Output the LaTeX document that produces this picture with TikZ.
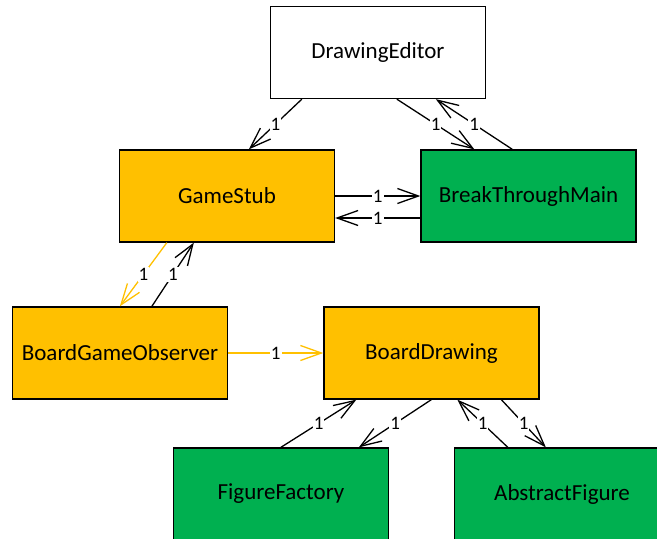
\documentclass[tikz,border=0pt]{standalone}
\usepackage{fontspec}
\setmainfont{Carlito}
\usetikzlibrary{arrows.meta}
\definecolor{boxorange}{HTML}{FFC000}
\definecolor{boxgreen}{HTML}{00B050}
\tikzset{
  classbox/.style={draw=black, line width=1.3pt, minimum width=215pt, minimum height=92pt,
    inner sep=0pt, font=\fontsize{23}{27}\selectfont},
  plainbox/.style={classbox, fill=white},
  orangebox/.style={classbox, fill=boxorange},
  greenbox/.style={classbox, fill=boxgreen},
  assoc/.style={line width=1.3pt, draw=black,
    -{Straight Barb[length=21pt,width=15pt,line width=1.3pt]}},
  orangeassoc/.style={assoc, draw=boxorange},
  mult/.style={fill=white, inner sep=1pt, text=black, font=\fontsize{19}{22}\selectfont}
}
\begin{document}
\begin{tikzpicture}[x=1pt, y=-1pt]
\useasboundingbox (0,0) rectangle (657,539);
\clip (0,0) rectangle (657,539);

% classes
\node[plainbox]  (DE)  at (378,52.5) {DrawingEditor};
\node[orangebox] (GS)  at (227,196)  {GameStub};
\node[greenbox]  (BTM) at (528.5,196) {BreakThroughMain};
\node[orangebox] (BGO) at (120,353)  {BoardGameObserver};
\node[orangebox] (BD)  at (431.5,353) {BoardDrawing};
\node[greenbox]  (FF)  at (281,494)  {FigureFactory};
\node[greenbox]  (AF)  at (562,494)  {AbstractFigure};

% associations with multiplicity labels
\draw[assoc] ([xshift=32pt]DE.south west) -- node[mult]{1} ([xshift=130pt]GS.north west);
\draw[assoc] ([xshift=127pt]DE.south west) -- node[mult]{1} ([xshift=54pt]BTM.north west);
\draw[assoc] ([xshift=92pt]BTM.north west) -- node[mult]{1} ([xshift=166pt]DE.south west);

\draw[assoc] (GS.east) -- node[mult]{1} (BTM.west);
\draw[assoc] ([yshift=-22pt]BTM.west) -- node[mult]{1} ([yshift=-22pt]GS.east);

\draw[orangeassoc] ([xshift=48pt]GS.south west) -- node[mult]{1} ([xshift=108pt]BGO.north west);
\draw[assoc] ([xshift=140pt]BGO.north west) -- node[mult]{1} ([xshift=75pt]GS.south west);

\draw[orangeassoc] (BGO.east) -- node[mult]{1} (BD.west);

\draw[assoc] ([xshift=108pt]FF.north west) -- node[mult]{1} ([xshift=33pt]BD.south west);
\draw[assoc] ([xshift=108pt]BD.south west) -- node[mult]{1} ([xshift=186pt]FF.north west);
\draw[assoc] ([xshift=54pt]AF.north west) -- node[mult]{1} ([xshift=134pt]BD.south west);
\draw[assoc] ([xshift=178pt]BD.south west) -- node[mult]{1} ([xshift=92pt]AF.north west);
\end{tikzpicture}
\end{document}
